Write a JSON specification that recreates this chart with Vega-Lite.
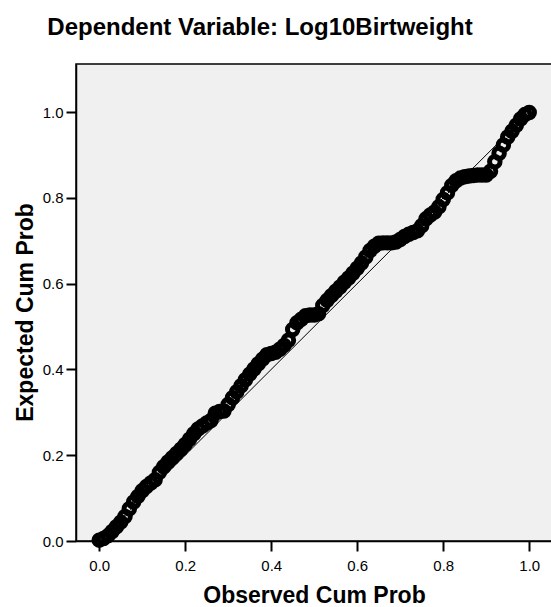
{
  "$schema": "https://vega.github.io/schema/vega-lite/v6.json",
  "width": 476,
  "height": 477,
  "autosize": {"type": "none"},
  "padding": {"left": 76, "top": 64, "right": 0, "bottom": 66},
  "background": "white",
  "title": {
    "text": "Dependent Variable: Log10Birtweight",
    "font": "Liberation Sans",
    "fontSize": 24,
    "fontWeight": "bold",
    "color": "black",
    "anchor": "middle",
    "dx": -54,
    "offset": 24
  },
  "datasets": {
    "pts": [
      {"obs": 0.00, "exp": 0.002}, {"obs": 0.01, "exp": 0.006}, {"obs": 0.02, "exp": 0.012}, {"obs": 0.03, "exp": 0.022},
      {"obs": 0.04, "exp": 0.033}, {"obs": 0.05, "exp": 0.044}, {"obs": 0.06, "exp": 0.057}, {"obs": 0.07, "exp": 0.075},
      {"obs": 0.08, "exp": 0.091}, {"obs": 0.09, "exp": 0.104}, {"obs": 0.10, "exp": 0.117}, {"obs": 0.11, "exp": 0.127},
      {"obs": 0.12, "exp": 0.135}, {"obs": 0.13, "exp": 0.143}, {"obs": 0.14, "exp": 0.160}, {"obs": 0.15, "exp": 0.173},
      {"obs": 0.16, "exp": 0.184}, {"obs": 0.17, "exp": 0.194}, {"obs": 0.18, "exp": 0.204}, {"obs": 0.19, "exp": 0.214},
      {"obs": 0.20, "exp": 0.225}, {"obs": 0.21, "exp": 0.237}, {"obs": 0.22, "exp": 0.250}, {"obs": 0.23, "exp": 0.261},
      {"obs": 0.24, "exp": 0.268}, {"obs": 0.25, "exp": 0.275}, {"obs": 0.26, "exp": 0.281}, {"obs": 0.27, "exp": 0.298},
      {"obs": 0.28, "exp": 0.302}, {"obs": 0.29, "exp": 0.303}, {"obs": 0.30, "exp": 0.318}, {"obs": 0.31, "exp": 0.334},
      {"obs": 0.32, "exp": 0.348}, {"obs": 0.33, "exp": 0.362}, {"obs": 0.34, "exp": 0.376}, {"obs": 0.35, "exp": 0.389},
      {"obs": 0.36, "exp": 0.401}, {"obs": 0.37, "exp": 0.413}, {"obs": 0.38, "exp": 0.424}, {"obs": 0.39, "exp": 0.434},
      {"obs": 0.40, "exp": 0.437}, {"obs": 0.41, "exp": 0.440}, {"obs": 0.42, "exp": 0.447}, {"obs": 0.43, "exp": 0.456},
      {"obs": 0.44, "exp": 0.468}, {"obs": 0.45, "exp": 0.493}, {"obs": 0.46, "exp": 0.509}, {"obs": 0.47, "exp": 0.517},
      {"obs": 0.48, "exp": 0.525}, {"obs": 0.49, "exp": 0.527}, {"obs": 0.50, "exp": 0.527}, {"obs": 0.51, "exp": 0.530},
      {"obs": 0.52, "exp": 0.549}, {"obs": 0.53, "exp": 0.561}, {"obs": 0.54, "exp": 0.572}, {"obs": 0.55, "exp": 0.582},
      {"obs": 0.56, "exp": 0.592}, {"obs": 0.57, "exp": 0.603}, {"obs": 0.58, "exp": 0.613}, {"obs": 0.59, "exp": 0.624},
      {"obs": 0.60, "exp": 0.636}, {"obs": 0.61, "exp": 0.648}, {"obs": 0.62, "exp": 0.662}, {"obs": 0.63, "exp": 0.677},
      {"obs": 0.64, "exp": 0.687}, {"obs": 0.65, "exp": 0.694}, {"obs": 0.66, "exp": 0.695}, {"obs": 0.67, "exp": 0.695},
      {"obs": 0.68, "exp": 0.695}, {"obs": 0.69, "exp": 0.697}, {"obs": 0.70, "exp": 0.703}, {"obs": 0.71, "exp": 0.710},
      {"obs": 0.72, "exp": 0.715}, {"obs": 0.73, "exp": 0.719}, {"obs": 0.74, "exp": 0.723}, {"obs": 0.75, "exp": 0.735},
      {"obs": 0.76, "exp": 0.751}, {"obs": 0.77, "exp": 0.760}, {"obs": 0.78, "exp": 0.767}, {"obs": 0.79, "exp": 0.779},
      {"obs": 0.80, "exp": 0.796}, {"obs": 0.81, "exp": 0.812}, {"obs": 0.82, "exp": 0.829}, {"obs": 0.83, "exp": 0.840},
      {"obs": 0.84, "exp": 0.846}, {"obs": 0.85, "exp": 0.849}, {"obs": 0.86, "exp": 0.851}, {"obs": 0.87, "exp": 0.852},
      {"obs": 0.88, "exp": 0.853}, {"obs": 0.89, "exp": 0.853}, {"obs": 0.90, "exp": 0.853}, {"obs": 0.91, "exp": 0.862},
      {"obs": 0.92, "exp": 0.884}, {"obs": 0.93, "exp": 0.904}, {"obs": 0.94, "exp": 0.923}, {"obs": 0.95, "exp": 0.942},
      {"obs": 0.96, "exp": 0.955}, {"obs": 0.97, "exp": 0.969}, {"obs": 0.98, "exp": 0.984}, {"obs": 0.99, "exp": 0.994},
      {"obs": 1.00, "exp": 0.999}
    ],
    "diag": [{"x": 0, "y": 0, "x2": 1, "y2": 1}]
  },
  "layer": [
    {
      "data": {"name": "diag"},
      "mark": {"type": "rule", "color": "black", "strokeWidth": 1},
      "encoding": {
        "x": {"field": "x", "type": "quantitative", "scale": {"domain": [-0.054, 1.053], "nice": false, "zero": false},
              "axis": {"values": [0, 0.2, 0.4, 0.6, 0.8, 1.0], "format": ".1f", "title": "Observed Cum Prob"}},
        "y": {"field": "y", "type": "quantitative", "scale": {"domain": [0, 1.112], "nice": false},
              "axis": {"values": [0, 0.2, 0.4, 0.6, 0.8, 1.0], "format": ".1f", "title": "Expected Cum Prob", "titleY": 248}},
        "x2": {"field": "x2"},
        "y2": {"field": "y2"}
      }
    },
    {
      "data": {"name": "pts"},
      "mark": {"type": "point", "shape": "circle", "filled": false, "stroke": "black", "strokeWidth": 5, "size": 110, "opacity": 1},
      "encoding": {
        "x": {"field": "obs", "type": "quantitative"},
        "y": {"field": "exp", "type": "quantitative"}
      }
    }
  ],
  "resolve": {"scale": {"x": "shared", "y": "shared"}},
  "config": {
    "view": {"stroke": "black", "strokeWidth": 1.5, "fill": "#f0f0f0"},
    "axis": {
      "grid": false,
      "labelFont": "Liberation Sans",
      "labelFontSize": 15,
      "labelColor": "black",
      "titleFont": "Liberation Sans",
      "titleFontSize": 23,
      "titleFontWeight": "bold",
      "titleColor": "black",
      "domainColor": "black",
      "domainWidth": 1.5,
      "tickColor": "black",
      "tickWidth": 2,
      "tickSize": 10
    },
    "axisX": {"labelPadding": 7, "titlePadding": 11, "labelFlush": false},
    "axisY": {"labelPadding": 3, "titlePadding": 5, "labelFlush": false}
  }
}
